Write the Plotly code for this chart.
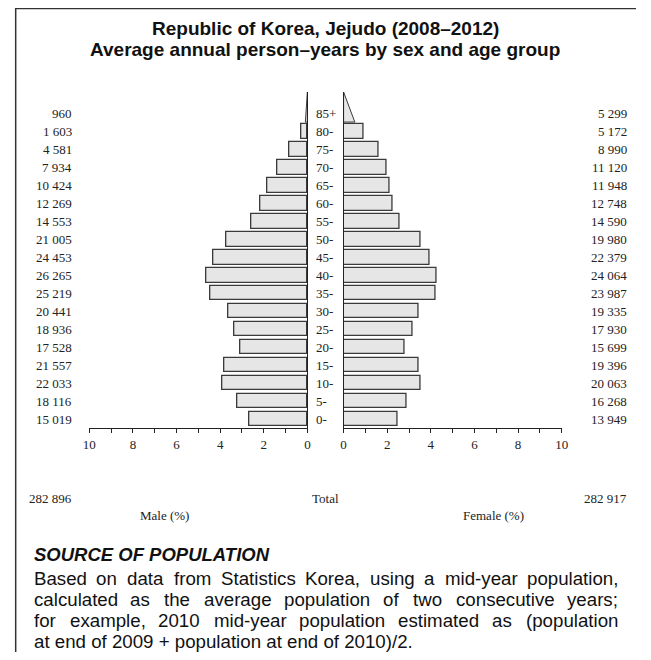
import plotly.graph_objects as go

# ---------------- data ----------------
age_groups = ["0-", "5-", "10-", "15-", "20-", "25-", "30-", "35-", "40-",
              "45-", "50-", "55-", "60-", "65-", "70-", "75-", "80-", "85+"]
male = [15019, 18116, 22033, 21557, 17528, 18936, 20441, 25219, 26265,
        24453, 21005, 14553, 12269, 10424, 7934, 4581, 1603, 960]
female = [13949, 16268, 20063, 19396, 15699, 17930, 19335, 23987, 24064,
          22379, 19980, 14590, 12748, 11948, 11120, 8990, 5172, 5299]
tick_values = [0, 2, 4, 6, 8, 10]
tick_labels = ["0", "2", "4", "6", "8", "10"]

title_lines = ["Republic of Korea, Jejudo (2008\u20132012)",
               "Average annual person\u2013years by sex and age group"]
source_heading = "SOURCE OF POPULATION"
source_lines = [
    "Based on data from Statistics Korea, using a mid-year population,",
    "calculated as the average population of two consecutive years;",
    "for example, 2010 mid-year population estimated as (population",
    "at end of 2009 + population at end of 2010)/2.",
]

# ---------------- derived ----------------
total_m = sum(male)
total_f = sum(female)
grand = total_m + total_f
male_pct = [v / grand * 100 for v in male]
female_pct = [v / grand * 100 for v in female]
rows = list(range(len(age_groups)))
n_bar = len(age_groups) - 1  # last group drawn as a triangle


def fmt(v):
    return f"{v:,}".replace(",", " ")


# the page body has an 8px margin: figure is sized to fit the window
OFF = 8
W, H = 651 - 2 * OFF, 660 - 2 * OFF


def px(x):
    return (x - OFF) / W


def py(y):
    return 1 - (y - OFF) / H


SERIF = "Liberation Serif, Times New Roman, serif"
SANS = "Liberation Sans, Arial, Helvetica, sans-serif"
BAR_FILL = "#e6e6e6"
EDGE = "#3a3a3a"
TXT = "#222222"
NUM_SIZE = 13

Y_RANGE = [-0.5, 18.17]
TOP_Y = Y_RANGE[1]
BASE_Y = 16.5

fig = go.Figure()

fig.add_trace(go.Bar(
    x=male_pct[:n_bar], y=rows[:n_bar], orientation="h", width=0.83,
    marker=dict(color=BAR_FILL, line=dict(color=EDGE, width=1.3)),
    xaxis="x", yaxis="y", showlegend=False, hoverinfo="skip"))
fig.add_trace(go.Bar(
    x=female_pct[:n_bar], y=rows[:n_bar], orientation="h", width=0.83,
    marker=dict(color=BAR_FILL, line=dict(color=EDGE, width=1.3)),
    xaxis="x2", yaxis="y2", showlegend=False, hoverinfo="skip"))

# open-ended oldest group drawn as a wedge
tri_scale = 0.55
mb = male_pct[-1] * tri_scale
fb = female_pct[-1] * tri_scale
fig.add_trace(go.Scatter(
    x=[0, mb, 0, 0], y=[BASE_Y, BASE_Y, TOP_Y, BASE_Y], mode="lines",
    fill="toself", fillcolor=BAR_FILL, line=dict(color=EDGE, width=1),
    xaxis="x", yaxis="y", showlegend=False, hoverinfo="skip"))
fig.add_trace(go.Scatter(
    x=[0, fb, 0, 0], y=[BASE_Y, BASE_Y, TOP_Y, BASE_Y], mode="lines",
    fill="toself", fillcolor=BAR_FILL, line=dict(color=EDGE, width=1),
    xaxis="x2", yaxis="y2", showlegend=False, hoverinfo="skip"))

xaxis_common = dict(
    tickmode="array", tickvals=tick_values, ticktext=tick_labels,
    ticks="outside", ticklen=4, tickwidth=1, tickcolor=TXT,
    minor=dict(ticks="outside", dtick=1, ticklen=4, tickwidth=1, tickcolor=TXT),
    showline=True, linecolor=TXT, linewidth=1, showgrid=False, zeroline=False,
    tickfont=dict(family=SERIF, size=NUM_SIZE, color=TXT), fixedrange=True,
)
yaxis_common = dict(
    range=Y_RANGE, showline=True, linecolor=TXT, linewidth=1,
    showticklabels=False, ticks="", showgrid=False, zeroline=False,
    domain=[py(428), py(92)], fixedrange=True,
)

annotations = []
# number columns and age labels
for i, g in enumerate(age_groups):
    annotations.append(dict(x=px(68), xref="paper", y=i, yref="y", text=fmt(male[i]),
                            xanchor="right", showarrow=False,
                            font=dict(family=SERIF, size=NUM_SIZE, color=TXT)))
    annotations.append(dict(x=px(636), xref="paper", y=i, yref="y", text=fmt(female[i]),
                            xanchor="right", showarrow=False,
                            font=dict(family=SERIF, size=NUM_SIZE, color=TXT)))
    annotations.append(dict(x=px(314), xref="paper", y=i, yref="y", text=g,
                            xanchor="left", showarrow=False,
                            font=dict(family=SERIF, size=NUM_SIZE, color=TXT)))

# totals and axis titles
for txt, x, anchor, y in [
    (fmt(total_m), 68, "right", 498), ("Total", 325, "center", 498),
    (fmt(total_f), 636, "right", 498), ("Male (%)", 161, "center", 515),
    ("Female (%)", 497, "center", 515)]:
    annotations.append(dict(x=px(x), y=py(y), xref="paper", yref="paper", text=txt,
                            xanchor=anchor, yanchor="middle", showarrow=False,
                            font=dict(family=SERIF, size=NUM_SIZE, color=TXT)))

# title
for txt, y in zip(title_lines, [28.5, 50]):
    annotations.append(dict(x=px(325), y=py(y), xref="paper", yref="paper",
                            text=f"<b>{txt}</b>", xanchor="center", yanchor="middle",
                            showarrow=False, borderpad=0,
                            font=dict(family=SANS, size=19, color="#111")))

annotations.append(dict(x=px(25), y=py(554), xref="paper", yref="paper",
                        text=f"<b><i>{source_heading}</i></b>", xanchor="left",
                        yanchor="middle", showarrow=False,
                        font=dict(family=SANS, size=18.5, color="#111")))

# justified body text (Arial / Liberation Sans metrics)
AW = {c: 556 for c in "abdeghnopqu0123456789"}
AW.update({"c": 500, "f": 278, "i": 222, "j": 222, "k": 500, "l": 222, "m": 833,
           "r": 333, "s": 500, "t": 278, "v": 500, "w": 722, "x": 500, "y": 500,
           "z": 500, " ": 278, ",": 278, ".": 278, ";": 278, "-": 333, "(": 333,
           ")": 333, "+": 584, "/": 278, "B": 667, "K": 667, "S": 667})
BODY = 18.7
LEFT, RIGHT = 26, 622


def wlen(word):
    return sum(AW.get(c, 556) for c in word) * BODY / 1000


for li, line in enumerate(source_lines):
    y = 578 + li * 21
    if li < len(source_lines) - 1:
        words = line.split(" ")
        widths = [wlen(w) for w in words]
        gap = (RIGHT - LEFT - sum(widths)) / (len(words) - 1)
        x = LEFT
        for w, wd in zip(words, widths):
            annotations.append(dict(x=px(x), y=py(y), xref="paper", yref="paper", text=w,
                                    xanchor="left", yanchor="middle", showarrow=False,
                                    borderpad=0,
                                    font=dict(family=SANS, size=BODY, color="#111")))
            x += wd + gap
    else:
        annotations.append(dict(x=px(LEFT), y=py(y), xref="paper", yref="paper", text=line,
                                xanchor="left", yanchor="middle", showarrow=False,
                                borderpad=0,
                                font=dict(family=SANS, size=BODY, color="#111")))

shapes = [
    dict(type="line", xref="paper", yref="paper", x0=px(8), x1=1, y0=py(8.5), y1=py(8.5),
         line=dict(color="#333", width=1.5)),
    dict(type="line", xref="paper", yref="paper", x0=px(8.7), x1=px(8.7), y0=py(8.5), y1=0,
         line=dict(color="#333", width=1.5)),
]

fig.update_layout(
    width=W, height=H, margin=dict(l=0, r=0, t=0, b=0),
    paper_bgcolor="white", plot_bgcolor="white", bargap=0,
    xaxis=dict(domain=[px(84), px(307)], range=[10, 0], anchor="y", **xaxis_common),
    xaxis2=dict(domain=[px(344), px(567)], range=[0, 10], anchor="y2", **xaxis_common),
    yaxis=dict(anchor="x", side="right", **yaxis_common),
    yaxis2=dict(anchor="x2", side="left", **yaxis_common),
    annotations=annotations, shapes=shapes, showlegend=False,
)

fig.write_html("out.html")
